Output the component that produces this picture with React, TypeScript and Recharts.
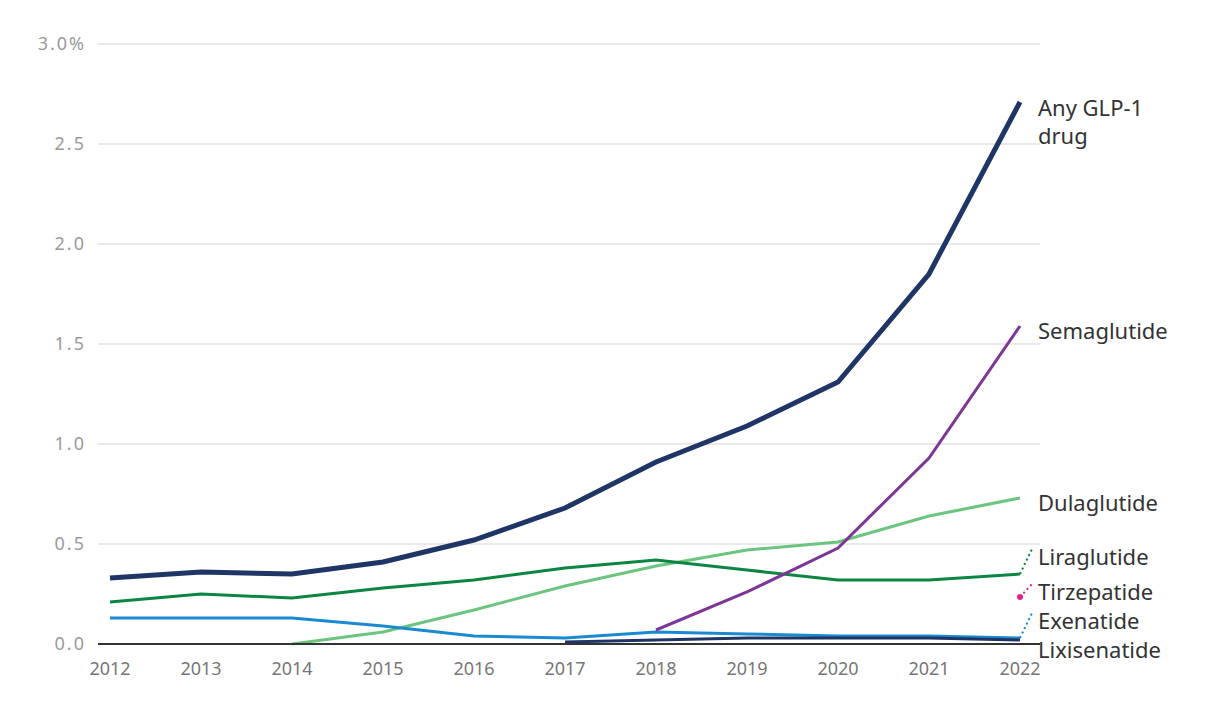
import React from 'react';
import {
  LineChart,
  Line,
  XAxis,
  YAxis,
  CartesianGrid,
  LabelList
} from 'recharts';

const years = [2012, 2013, 2014, 2015, 2016, 2017, 2018, 2019, 2020, 2021, 2022];
const anyGlp1 = [0.33, 0.36, 0.35, 0.41, 0.52, 0.68, 0.91, 1.09, 1.31, 1.85, 2.71];
const semaglutide = [null, null, null, null, null, null, 0.07, 0.26, 0.48, 0.93, 1.59];
const dulaglutide = [null, null, 0.0, 0.06, 0.17, 0.29, 0.39, 0.47, 0.51, 0.64, 0.73];
const liraglutide = [0.21, 0.25, 0.23, 0.28, 0.32, 0.38, 0.42, 0.37, 0.32, 0.32, 0.35];
const tirzepatide = [null, null, null, null, null, null, null, null, null, null, 0.235];
const exenatide = [0.13, 0.13, 0.13, 0.09, 0.04, 0.03, 0.06, 0.05, 0.04, 0.04, 0.03];
const lixisenatide = [null, null, null, null, null, 0.01, 0.02, 0.03, 0.03, 0.03, 0.02];
const yTicks = [0, 0.5, 1.0, 1.5, 2.0, 2.5, 3.0];

const data = years.map((year, i) => ({
  year,
  anyGlp1: anyGlp1[i],
  semaglutide: semaglutide[i],
  dulaglutide: dulaglutide[i],
  liraglutide: liraglutide[i],
  tirzepatide: tirzepatide[i],
  exenatide: exenatide[i],
  lixisenatide: lixisenatide[i]
}));

const FONT = '"Noto Sans", "Open Sans", sans-serif';
const LAST = years.length - 1;

// end-of-line label, optionally with a dotted leader when it is pushed away
function endLabel(lines: string[], dy: number, leader?: string) {
  return (props: any) => {
    const { x, y, index } = props;
    if (index !== LAST || x == null || y == null) return null;
    const ty = y + dy;
    return (
      <g>
        {leader && (
          <line
            x1={x}
            y1={y}
            x2={x + 12}
            y2={ty - 7}
            stroke={leader}
            strokeWidth={2}
            strokeDasharray="2 3"
          />
        )}
        <text x={x + 18} y={ty} fill="#333" fontSize={22} fontFamily={FONT} dominantBaseline="central">
          {lines.map((l, i) => (
            <tspan key={i} x={x + 18} dy={i === 0 ? 0 : 28}>
              {l}
            </tspan>
          ))}
        </text>
      </g>
    );
  };
}

export default function App() {
  return (
    <LineChart
      width={1212}
      height={706}
      data={data}
      margin={{ top: 36, right: 180, bottom: 0, left: 0 }}
    >
      <CartesianGrid vertical={false} stroke="#e2e2e2" strokeWidth={1.5} />
      <XAxis
        dataKey="year"
        type="number"
        domain={[2012, 2022]}
        ticks={years}
        padding={{ left: 12, right: 20 }}
        height={70}
        tickLine={false}
        tickMargin={12}
        axisLine={{ stroke: '#333', strokeWidth: 2 }}
        tick={{ fill: '#777', fontSize: 18, fontFamily: FONT }}
      />
      <YAxis
        domain={[0, 3]}
        ticks={yTicks}
        width={90}
        axisLine={false}
        tickLine={false}
        tickMargin={6}
        tick={{ fill: '#9a9a9a', fontSize: 18, fontFamily: FONT, letterSpacing: 2 }}
        tickFormatter={(v: number) => (v === 3 ? '3.0%' : v.toFixed(1))}
      />
      <Line dataKey="dulaglutide" stroke="#6CC57F" strokeWidth={3} dot={false} isAnimationActive={false}>
        <LabelList content={endLabel(['Dulaglutide'], 4)} />
      </Line>
      <Line dataKey="liraglutide" stroke="#0A8542" strokeWidth={3} dot={false} isAnimationActive={false}>
        <LabelList content={endLabel(['Liraglutide'], -18, '#0A8542')} />
      </Line>
      <Line dataKey="exenatide" stroke="#1A8AD0" strokeWidth={3} dot={false} isAnimationActive={false}>
        <LabelList content={endLabel(['Exenatide'], -18, '#1A8AD0')} />
      </Line>
      <Line dataKey="lixisenatide" stroke="#1F3566" strokeWidth={3} dot={false} isAnimationActive={false}>
        <LabelList content={endLabel(['Lixisenatide'], 9)} />
      </Line>
      <Line
        dataKey="tirzepatide"
        stroke="#E6238C"
        strokeWidth={3}
        dot={{ r: 3, fill: '#E6238C', stroke: 'none' }}
        isAnimationActive={false}
      >
        <LabelList content={endLabel(['Tirzepatide'], -6, '#E6238C')} />
      </Line>
      <Line dataKey="semaglutide" stroke="#7D3696" strokeWidth={3} dot={false} isAnimationActive={false}>
        <LabelList content={endLabel(['Semaglutide'], 4)} />
      </Line>
      <Line dataKey="anyGlp1" stroke="#1F3566" strokeWidth={5} dot={false} isAnimationActive={false}>
        <LabelList content={endLabel(['Any GLP-1', 'drug'], 5)} />
      </Line>
    </LineChart>
  );
}
